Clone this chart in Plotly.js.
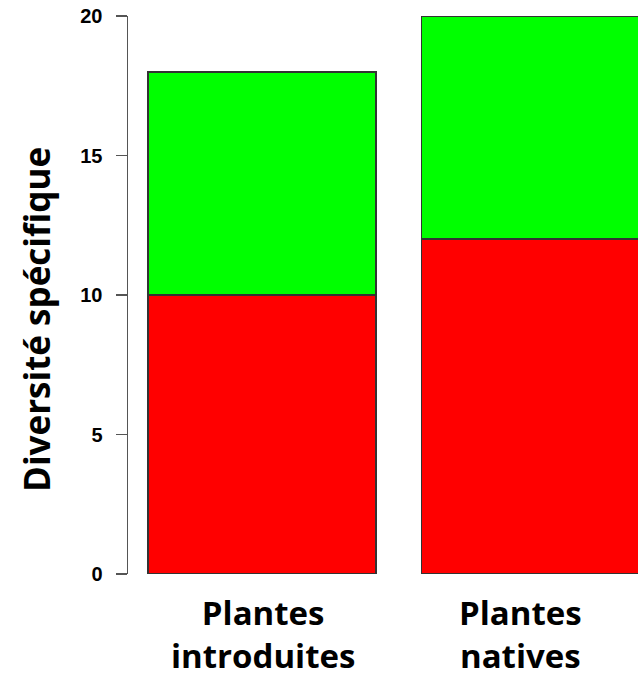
<!DOCTYPE html>
<html>
<head>
<meta charset="utf-8">
<script src="https://cdn.plot.ly/plotly-3.0.1.min.js"></script>
<style>html,body{margin:0;padding:0;background:#fff;}#chart{width:638px;height:688px;}</style>
</head>
<body>
<div id="chart"></div>
<script>
// Data
const categories = ["Plantes introduites", "Plantes natives"];
const labelLines = [["Plantes", "introduites"], ["Plantes", "natives"]];
const redValues = [10, 12];
const greenValues = [8, 8];
const yTicks = [0, 5, 10, 15, 20];
const yTitle = "Diversité spécifique";

// Layout helpers (R barplot style: width 1, space 0.2)
const barPos = categories.map((c, i) => 0.7 + i * 1.2);
const labelPos = [0.704, 1.832];

const barLine = {color: "#333333", width: 1.5};
const traces = [
  {type: "bar", x: barPos, y: redValues, width: 1, marker: {color: "#FF0000", line: barLine}, hoverinfo: "skip", name: "rouge"},
  {type: "bar", x: barPos, y: greenValues, width: 1, marker: {color: "#00FF00", line: barLine}, hoverinfo: "skip", name: "vert"}
];

const labelFont = {family: "'Open Sans', Lato, sans-serif", size: 35, color: "#000", weight: "bold"};
const catFont = Object.assign({}, labelFont, {size: 33});
const annotations = labelLines.map((lines, i) => ({
  text: lines.join("<br>"), x: labelPos[i], xref: "x", y: 0, yref: "paper",
  yanchor: "middle", xanchor: "center", showarrow: false,
  yshift: -60, font: catFont
}));
// y-axis title (placed as rotated annotation, centred slightly below the plot centre as in the reference)
annotations.push({
  text: yTitle, textangle: -90, xref: "paper", yref: "paper",
  x: (36 - 128) / 510, y: (574 - 320) / 558,
  xanchor: "center", yanchor: "middle", showarrow: false, font: labelFont
});

const layout = {
  width: 638, height: 688,
  margin: {l: 128, r: 0, t: 16, b: 114},
  paper_bgcolor: "#fff", plot_bgcolor: "#fff",
  barmode: "stack",
  showlegend: false,
  xaxis: {range: [0.2 - 20/228, 0.2 + 490/228], showline: false, showticklabels: false, ticks: "", showgrid: false, zeroline: false, fixedrange: true},
  yaxis: {
    range: [0, 20], tickvals: yTicks, ticktext: yTicks.map(String),
    showline: true, linecolor: "#555555", linewidth: 1.5,
    ticks: "outside", ticklen: 11, tickwidth: 1.5, tickcolor: "#555555",
    ticklabelstandoff: 9,
    tickfont: {family: "'Liberation Sans', Arial, sans-serif", size: 20, color: "#000", weight: "bold"},
    showgrid: false, zeroline: false, fixedrange: true
  },
  annotations: annotations
};

Plotly.newPlot("chart", traces, layout, {displayModeBar: false, staticPlot: true});
</script>
</body>
</html>
